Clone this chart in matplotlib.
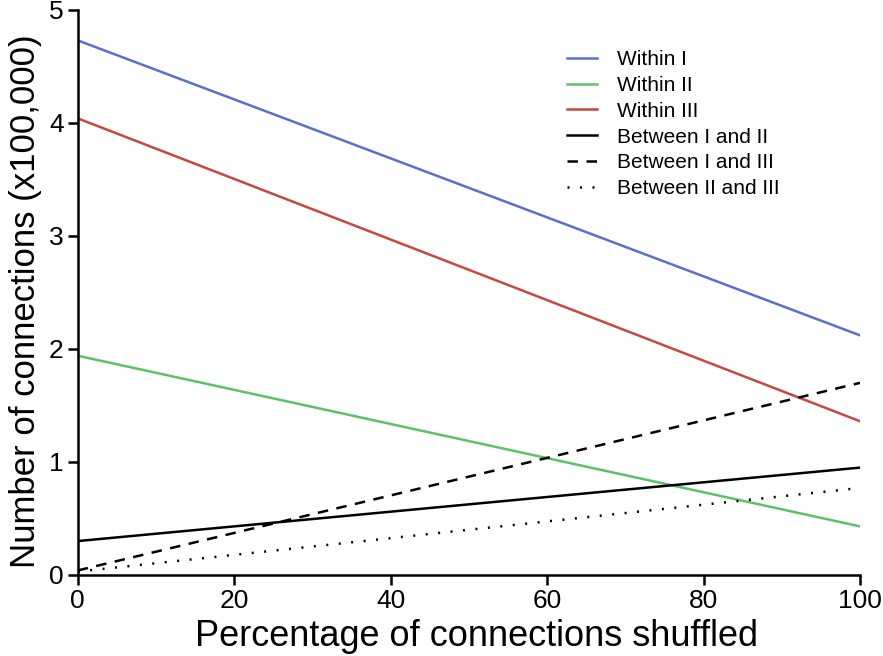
import matplotlib
matplotlib.use("Agg")
import matplotlib.pyplot as plt

plt.rcParams["font.family"] = ["Liberation Sans", "DejaVu Sans"]

shuffled = [0, 100]
within_1 = [4.73, 2.12]
within_2 = [1.94, 0.43]
within_3 = [4.04, 1.36]
between_1_2 = [0.30, 0.95]
between_1_3 = [0.04, 1.70]
between_2_3 = [0.03, 0.77]

x_ticks = [0, 20, 40, 60, 80, 100]
y_ticks = [0, 1, 2, 3, 4, 5]

fig = plt.figure(figsize=(8.83, 6.56), dpi=100)
ax = fig.add_axes([0.088, 0.1235, 0.886, 0.8615])

lw = 1.8
ax.plot(shuffled, within_1, color="#5a6fcf", lw=lw, label="Within I")
ax.plot(shuffled, within_2, color="#5cc16a", lw=lw, label="Within II")
ax.plot(shuffled, within_3, color="#c54843", lw=lw, label="Within III")
ax.plot(shuffled, between_1_2, color="black", lw=lw, label="Between I and II")
ax.plot(shuffled, between_1_3, color="black", lw=lw, ls=(0, (4.2, 3.4)), label="Between I and III")
ax.plot(shuffled, between_2_3, color="black", lw=lw, ls=(0, (0.8, 4.2)), label="Between II and III")

ax.set_xlim(0, 100)
ax.set_ylim(0, 5)
ax.set_xticks(x_ticks)
ax.set_yticks(y_ticks)
for s in ("top", "right"):
    ax.spines[s].set_visible(False)
for s in ("left", "bottom"):
    ax.spines[s].set_linewidth(1.8)
ax.tick_params(direction="out", length=7, width=1.8, labelsize=19, pad=3)

ax.set_xlabel("Percentage of connections shuffled", fontsize=26)
ax.set_ylabel("Number of connections (x100,000)", fontsize=25)
ax.xaxis.set_label_coords(0.51, -0.078, transform=ax.transAxes)
ax.yaxis.set_label_coords(-0.046, 0.485, transform=ax.transAxes)

ax.legend(loc="upper left", bbox_to_anchor=(567 / 883, 1 - 50 / 656),
          bbox_transform=fig.transFigure, frameon=False, fontsize=15,
          borderpad=0, borderaxespad=0,
          handlelength=1.45, handletextpad=0.95, labelspacing=0.33)

fig.savefig("out.png", dpi=100)
